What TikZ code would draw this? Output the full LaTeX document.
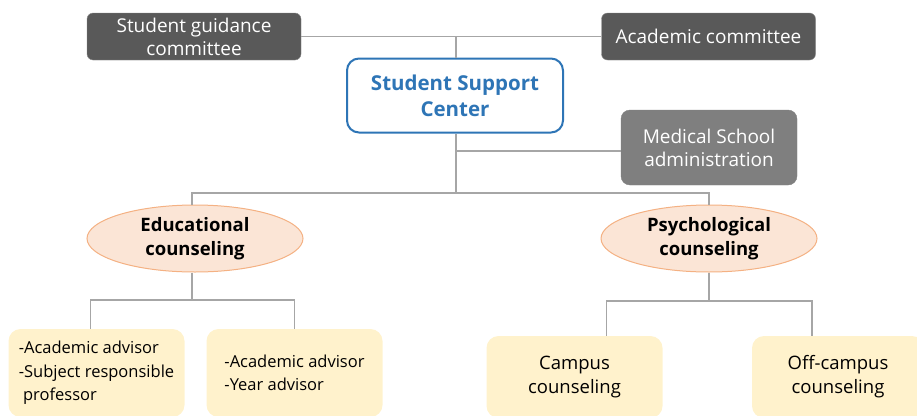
\documentclass[tikz,border=0pt]{standalone}
\usepackage{fontspec}
\setmainfont{Open Sans}
\usetikzlibrary{positioning,shapes.geometric}

\definecolor{darkbox}{HTML}{595959}
\definecolor{midbox}{HTML}{7F7F7F}
\definecolor{hubblue}{HTML}{2E75B6}
\definecolor{unitfill}{HTML}{FBE5D6}
\definecolor{unitdraw}{HTML}{F4B183}
\definecolor{leaffill}{HTML}{FFF2CC}
\definecolor{linegray}{HTML}{A6A6A6}

\begin{document}
\begin{tikzpicture}[x=1pt,y=-1pt,
 committee/.style={fill=darkbox,draw=darkbox!70,rounded corners=6pt,text=white,align=center,inner sep=0pt,minimum width=214pt,minimum height=47pt,font=\fontsize{19}{23}\selectfont},
 office/.style={committee,fill=midbox,draw=midbox,rounded corners=9pt,minimum width=176pt,minimum height=75pt},
 hub/.style={draw=hubblue,line width=2pt,fill=white,rounded corners=12pt,text=hubblue,align=center,inner sep=0pt,minimum width=216pt,minimum height=74pt,font=\bfseries\fontsize{20.5}{26}\selectfont},
 unit/.style={ellipse,draw=unitdraw,fill=unitfill,line width=1pt,align=center,inner sep=0pt,minimum width=216pt,minimum height=67pt,font=\bfseries\fontsize{18.5}{24}\selectfont},
 leaf/.style={fill=leaffill,rounded corners=12pt,inner sep=0pt,minimum width=176pt,minimum height=88pt,font=\fontsize{16.5}{23.5}\selectfont},
 link/.style={draw=linegray,line width=1.5pt}]
\clip (0,0) rectangle (917,415);

% top row and center
\node[committee] (guide) at (194,36.5) {Student guidance\\committee};
\node[committee] (acad) at (708.5,36.5) {Academic committee};
\node[hub] (ssc) at (455,95.5) {Student Support\\Center};
\node[office] (med) at (709,147.5) {Medical School\\administration};

% counseling branches
\node[unit] (edu) at (195,238.5) {Educational\\counseling};
\node[unit] (psy) at (709,238.5) {Psychological\\counseling};

\node[leaf,align=left] (adv1) at (96.5,373) {-Academic advisor\\-Subject responsible\\\ professor};
\node[leaf,align=left] (adv2) at (294.5,373) {-Academic advisor\\-Year advisor};
\node[leaf,align=center,minimum height=82pt,font=\fontsize{18.5}{24}\selectfont] (campus) at (574.5,377) {Campus\\counseling};
\node[leaf,align=center,minimum width=172pt,minimum height=82pt,font=\fontsize{18.5}{24}\selectfont] (offcampus) at (838,377) {Off-campus\\counseling};

\coordinate (split) at (456,193);
\coordinate (edusplit) at (192,300);
\coordinate (psysplit) at (709,301);

\draw[link] (guide) -- (acad);
\draw[link] (ssc.north -| split) -- (split |- guide);
\draw[link] (ssc.south -| split) -- (split);
\draw[link] (split |- 0,151) -- (med.west |- 0,151);
\draw[link] (split) -| (edu.north -| 192,0);
\draw[link] (split) -| (psy.north);
\draw[link] (edu.south -| edusplit) -- (edusplit);
\draw[link] (edusplit) -| ([xshift=-6pt]adv1.north);
\draw[link] (edusplit) -| (adv2.north);
\draw[link] (psy.south) -- (psysplit);
\draw[link] (psysplit) -| ([xshift=32pt]campus.north);
\draw[link] (psysplit) -| ([xshift=-26pt]offcampus.north);
\end{tikzpicture}
\end{document}
